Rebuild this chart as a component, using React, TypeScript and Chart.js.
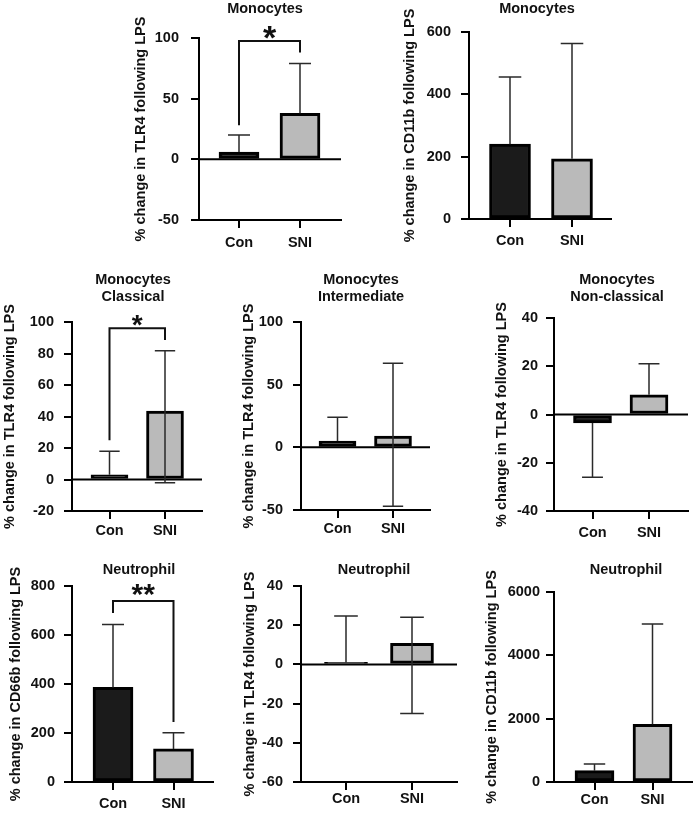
import React, { useEffect, useRef } from "react";
import { Chart, registerables } from "chart.js";

Chart.register(...registerables);

const FONT = "'Liberation Sans', Arial, Helvetica, sans-serif";
const FONT_SIZE = 14.5;
const CON_FILL = "#1b1b1b";
const SNI_FILL = "#bababa";

const categories = ["Con", "SNI"];

// Monocytes – TLR4
const monoTlr4Title = ["Monocytes"];
const monoTlr4YLabel = "% change in TLR4 following LPS";
const monoTlr4Ticks = [-50, 0, 50, 100];
const monoTlr4Values = [6, 38];
const monoTlr4ErrHigh = [20, 79];
const monoTlr4ErrLow = [null, null];
const monoTlr4Sig = { label: "*", top: 97.5, left: 28, right: 88 };

// Monocytes – CD11b
const monoCd11bTitle = ["Monocytes"];
const monoCd11bYLabel = "% change in CD11b following LPS";
const monoCd11bTicks = [0, 200, 400, 600];
const monoCd11bValues = [240, 193];
const monoCd11bErrHigh = [456, 563];
const monoCd11bErrLow = [null, null];

// Monocytes Classical – TLR4
const classicalTitle = ["Monocytes", "Classical"];
const classicalYLabel = "% change in TLR4 following LPS";
const classicalTicks = [-20, 0, 20, 40, 60, 80, 100];
const classicalValues = [3, 43.5];
const classicalErrHigh = [18, 81.7];
const classicalErrLow = [null, -2];
const classicalSig = { label: "*", top: 96, left: 25, right: 88.5 };

// Monocytes Intermediate – TLR4
const intermediateTitle = ["Monocytes", "Intermediate"];
const intermediateYLabel = "% change in TLR4 following LPS";
const intermediateTicks = [-50, 0, 50, 100];
const intermediateValues = [5, 9];
const intermediateErrHigh = [24, 67];
const intermediateErrLow = [null, -47];

// Monocytes Non-classical – TLR4
const nonClassicalTitle = ["Monocytes", "Non-classical"];
const nonClassicalYLabel = "% change in TLR4 following LPS";
const nonClassicalTicks = [-40, -20, 0, 20, 40];
const nonClassicalValues = [-3.5, 8.2];
const nonClassicalErrHigh = [null, 21];
const nonClassicalErrLow = [-26, null];

// Neutrophil – CD66b
const neutCd66bTitle = ["Neutrophil"];
const neutCd66bYLabel = "% change in CD66b following LPS";
const neutCd66bTicks = [0, 200, 400, 600, 800];
const neutCd66bValues = [386, 135];
const neutCd66bErrHigh = [643, 201];
const neutCd66bErrLow = [null, null];
const neutCd66bSig = { label: "**", top: 739, left: 690, right: 245 };

// Neutrophil – TLR4
const neutTlr4Title = ["Neutrophil"];
const neutTlr4YLabel = "% change in TLR4 following LPS";
const neutTlr4Ticks = [-60, -40, -20, 0, 20, 40];
const neutTlr4Values = [1, 10.8];
const neutTlr4ErrHigh = [24.7, 24];
const neutTlr4ErrLow = [null, -25];

// Neutrophil – CD11b
const neutCd11bTitle = ["Neutrophil"];
const neutCd11bYLabel = "% change in CD11b following LPS";
const neutCd11bTicks = [0, 2000, 4000, 6000];
const neutCd11bValues = [357, 1820];
const neutCd11bErrHigh = [568, 4990];
const neutCd11bErrLow = [null, null];

type Sig = { label: string; top: number; left: number; right: number } | null;
type Layout = {
  axisX: number; plotRight: number; plotTop: number; plotBottom: number;
  conX: number; sniX: number; barW: number; yTitleX: number;
  titleX: number; titleY: number[]; xPad: number; yPad: number; starSize: number; starDy: number;
};
type Panel = {
  title: string[]; yLabel: string; ticks: number[]; values: number[];
  errHigh: (number | null)[]; errLow: (number | null)[]; sig: Sig; L: Layout;
};

const panels: Panel[] = [
  { title: monoTlr4Title, yLabel: monoTlr4YLabel, ticks: monoTlr4Ticks, values: monoTlr4Values, errHigh: monoTlr4ErrHigh, errLow: monoTlr4ErrLow, sig: monoTlr4Sig,
    L: { axisX: 199, plotRight: 341, plotTop: 38, plotBottom: 220, conX: 239, sniX: 300, barW: 40, yTitleX: 141, titleX: 265, titleY: [13], xPad: 6, yPad: 12, starSize: 34, starDy: 8 } },
  { title: monoCd11bTitle, yLabel: monoCd11bYLabel, ticks: monoCd11bTicks, values: monoCd11bValues, errHigh: monoCd11bErrHigh, errLow: monoCd11bErrLow, sig: null,
    L: { axisX: 469, plotRight: 611, plotTop: 32, plotBottom: 219, conX: 510, sniX: 572, barW: 41, yTitleX: 410, titleX: 537, titleY: [13], xPad: 5, yPad: 10, starSize: 26, starDy: 0 } },
  { title: classicalTitle, yLabel: classicalYLabel, ticks: classicalTicks, values: classicalValues, errHigh: classicalErrHigh, errLow: classicalErrLow, sig: classicalSig,
    L: { axisX: 72, plotRight: 202, plotTop: 322, plotBottom: 511, conX: 109.5, sniX: 165, barW: 37, yTitleX: 10, titleX: 133, titleY: [284, 301], xPad: 3, yPad: 10, starSize: 28, starDy: 5.5 } },
  { title: intermediateTitle, yLabel: intermediateYLabel, ticks: intermediateTicks, values: intermediateValues, errHigh: intermediateErrHigh, errLow: intermediateErrLow, sig: null,
    L: { axisX: 301, plotRight: 430, plotTop: 322, plotBottom: 510, conX: 337.5, sniX: 393, barW: 37, yTitleX: 249, titleX: 361, titleY: [284, 301], xPad: 2, yPad: 10, starSize: 24, starDy: 0 } },
  { title: nonClassicalTitle, yLabel: nonClassicalYLabel, ticks: nonClassicalTicks, values: nonClassicalValues, errHigh: nonClassicalErrHigh, errLow: nonClassicalErrLow, sig: null,
    L: { axisX: 554, plotRight: 688, plotTop: 318, plotBottom: 511, conX: 592.5, sniX: 649, barW: 38, yTitleX: 502, titleX: 617, titleY: [284, 301], xPad: 5, yPad: 8, starSize: 24, starDy: 0 } },
  { title: neutCd66bTitle, yLabel: neutCd66bYLabel, ticks: neutCd66bTicks, values: neutCd66bValues, errHigh: neutCd66bErrHigh, errLow: neutCd66bErrLow, sig: neutCd66bSig,
    L: { axisX: 72, plotRight: 213, plotTop: 586, plotBottom: 782, conX: 113, sniX: 173.5, barW: 40, yTitleX: 16, titleX: 139, titleY: [574], xPad: 5, yPad: 9, starSize: 30, starDy: 3 } },
  { title: neutTlr4Title, yLabel: neutTlr4YLabel, ticks: neutTlr4Ticks, values: neutTlr4Values, errHigh: neutTlr4ErrHigh, errLow: neutTlr4ErrLow, sig: null,
    L: { axisX: 301, plotRight: 457, plotTop: 586, plotBottom: 782, conX: 346, sniX: 412, barW: 43, yTitleX: 250, titleX: 374, titleY: [574], xPad: 0, yPad: 10, starSize: 24, starDy: 0 } },
  { title: neutCd11bTitle, yLabel: neutCd11bYLabel, ticks: neutCd11bTicks, values: neutCd11bValues, errHigh: neutCd11bErrHigh, errLow: neutCd11bErrLow, sig: null,
    L: { axisX: 554, plotRight: 692, plotTop: 592, plotBottom: 782, conX: 594.5, sniX: 652.5, barW: 39, yTitleX: 492, titleX: 626, titleY: [574], xPad: 1, yPad: 6, starSize: 24, starDy: 0 } },
];

function boxOf(p: Panel) {
  const L = p.L;
  const left = Math.max(0, L.yTitleX - 14);
  const top = Math.max(0, L.titleY[0] - 18);
  const right = Math.min(693, L.plotRight + 4);
  const bottom = Math.min(816, L.plotBottom + 34);
  return { left, top, right, bottom, w: right - left, h: bottom - top };
}

function PanelChart({ p }: { p: Panel }) {
  const ref = useRef<HTMLCanvasElement | null>(null);
  const b = boxOf(p);
  useEffect(() => {
    if (!ref.current) return;
    const L = p.L;
    const span = L.sniX - L.conX;
    const tickFont = { family: FONT, size: FONT_SIZE, weight: "bold" as const };
    const annot = {
      id: "annot",
      beforeDatasetsDraw(chart: any) {
        const { ctx, chartArea, scales } = chart;
        const y = scales.y;
        if (p.ticks[0] < 0) {
          const y0 = y.getPixelForValue(0);
          ctx.save();
          ctx.strokeStyle = "#000";
          ctx.lineWidth = 2;
          ctx.beginPath();
          ctx.moveTo(chartArea.left, y0);
          ctx.lineTo(chartArea.right, y0);
          ctx.stroke();
          ctx.restore();
        }
      },
      afterDatasetsDraw(chart: any) {
        const { ctx, scales } = chart;
        const x = scales.x, y = scales.y;
        const cap = L.barW * 0.55;
        ctx.save();
        ctx.strokeStyle = "#2a2a2a";
        ctx.lineWidth = 1.5;
        p.values.forEach((v, i) => {
          const px = x.getPixelForValue(i);
          const py = y.getPixelForValue(v);
          [p.errHigh[i], p.errLow[i]].forEach((e) => {
            if (e === null || e === undefined) return;
            const pe = y.getPixelForValue(e);
            ctx.beginPath();
            ctx.moveTo(px, py);
            ctx.lineTo(px, pe);
            ctx.moveTo(px - cap / 2, pe);
            ctx.lineTo(px + cap / 2, pe);
            ctx.stroke();
          });
        });
        ctx.restore();
      },
      afterDraw(chart: any) {
        const { ctx, scales } = chart;
        const x = scales.x, y = scales.y;
        ctx.save();
        ctx.fillStyle = "#111";
        ctx.font = `bold ${FONT_SIZE}px ${FONT}`;
        ctx.textAlign = "center";
        ctx.textBaseline = "alphabetic";
        p.title.forEach((t, i) => ctx.fillText(t, L.titleX - b.left, L.titleY[i] - b.top));
        ctx.save();
        ctx.translate(L.yTitleX - b.left, (L.plotTop + L.plotBottom) / 2 - b.top);
        ctx.rotate(-Math.PI / 2);
        ctx.textBaseline = "middle";
        ctx.fillText(p.yLabel, 0, 0);
        ctx.restore();
        if (p.sig) {
          const x1 = x.getPixelForValue(0), x2 = x.getPixelForValue(1);
          const yt = y.getPixelForValue(p.sig.top);
          const yl = y.getPixelForValue(p.sig.left);
          const yr = y.getPixelForValue(p.sig.right);
          ctx.strokeStyle = "#111";
          ctx.lineWidth = 2;
          ctx.lineJoin = "miter";
          ctx.beginPath();
          ctx.moveTo(x1, yl);
          ctx.lineTo(x1, yt);
          ctx.lineTo(x2, yt);
          ctx.lineTo(x2, yr);
          ctx.stroke();
          ctx.font = `bold ${L.starSize}px ${FONT}`;
          ctx.textBaseline = "alphabetic";
          ctx.fillText(p.sig.label, (x1 + x2) / 2, yt + L.starDy);
        }
        ctx.restore();
      },
    };
    const chart = new Chart(ref.current, {
      type: "bar",
      data: {
        datasets: [
          {
            data: p.values.map((v, i) => ({ x: i, y: v })),
            backgroundColor: [CON_FILL, SNI_FILL],
            borderColor: "#000",
            borderWidth: 3,
            borderSkipped: false,
            barThickness: L.barW,
          } as any,
        ],
      },
      options: {
        responsive: false,
        animation: false,
        layout: { padding: { top: L.plotTop - b.top, left: 0, right: b.right - L.plotRight, bottom: 0 } },
        plugins: { legend: { display: false }, tooltip: { enabled: false }, title: { display: false } },
        scales: {
          x: {
            type: "linear",
            offset: false,
            min: -(L.conX - L.axisX) / span,
            max: (L.plotRight - L.conX) / span,
            afterBuildTicks: (s: any) => { s.ticks = categories.map((_, i) => ({ value: i })); },
            afterFit: (s: any) => { s.height = b.bottom - L.plotBottom; },
            ticks: { callback: (v: any) => categories[v], font: tickFont, color: "#111", padding: L.xPad, autoSkip: false, maxRotation: 0, minRotation: 0 },
            grid: { display: true, offset: false, drawOnChartArea: false, drawTicks: true, tickLength: 8, lineWidth: 2, color: "#000" },
            border: { display: true, width: 2, color: "#000" },
          },
          y: {
            type: "linear",
            min: p.ticks[0],
            max: p.ticks[p.ticks.length - 1],
            afterBuildTicks: (s: any) => { s.ticks = p.ticks.map((v) => ({ value: v })); },
            afterFit: (s: any) => { s.width = L.axisX - b.left; },
            ticks: { callback: (v: any) => String(v), font: tickFont, color: "#111", padding: L.yPad },
            grid: { display: true, drawOnChartArea: false, drawTicks: true, tickLength: 8, lineWidth: 2, color: "#000" },
            border: { display: true, width: 2, color: "#000" },
          },
        },
      } as any,
      plugins: [annot],
    });
    return () => chart.destroy();
  }, []);
  return (
    <canvas
      ref={ref}
      width={b.w}
      height={b.h}
      style={{ position: "absolute", left: b.left, top: b.top, width: b.w, height: b.h }}
    />
  );
}

export default function App() {
  return (
    <div style={{ position: "absolute", left: 0, top: 0, width: 693, height: 816, background: "#fff", overflow: "hidden" }}>
      {panels.map((p, i) => (
        <PanelChart key={i} p={p} />
      ))}
    </div>
  );
}
